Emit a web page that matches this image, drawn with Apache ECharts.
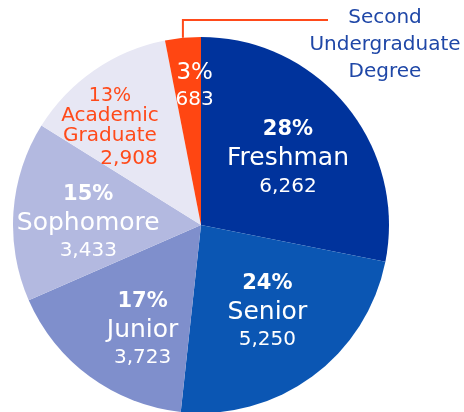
<!DOCTYPE html>
<html>
<head>
    <meta charset="utf-8">
    <title>Enrollment by class</title>
    <script src="https://cdn.jsdelivr.net/npm/echarts@6/dist/echarts.min.js"></script>
    <style type="text/css">
        html, body { margin: 0; padding: 0; background: #fff; }
        #chart { width: 464px; height: 412px; }
    </style>
</head>
<body>
<div id="chart"></div>
<script>
    // data
    var categories = ['Freshman', 'Senior', 'Junior', 'Sophomore', 'Academic\nGraduate', 'Second\nUndergraduate\nDegree'];
    var counts = [6262, 5250, 3723, 3433, 2908, 683];
    var colors = ['#00339c', '#0b56b3', '#7f8fcc', '#b3b9e0', '#e7e7f4', '#ff4612'];

    var total = counts.reduce(function (a, b) { return a + b; }, 0);
    function pct(v) { return Math.round(v / total * 100) + '%'; }
    function fmt(v) { return v.toLocaleString('en-US'); }

    var FONT = 'DejaVu Sans';
    var whiteRich = {
        p: {color: '#fff', fontFamily: FONT, fontWeight: 'bold', fontSize: 21, lineHeight: 29},
        n: {color: '#fff', fontFamily: FONT, fontSize: 25, lineHeight: 29},
        v: {color: '#fff', fontFamily: FONT, fontSize: 20, lineHeight: 26}
    };
    var orangeRich = {
        p: {color: '#ff4a1a', fontFamily: FONT, fontSize: 19, lineHeight: 20},
        n: {color: '#ff4a1a', fontFamily: FONT, fontSize: 20, lineHeight: 20},
        v: {color: '#ff4a1a', fontFamily: FONT, fontSize: 20, lineHeight: 26, padding: [0, 0, 0, 38]}
    };
    var smallRich = {
        p: {color: '#fff', fontFamily: FONT, fontSize: 23, lineHeight: 26},
        v: {color: '#fff', fontFamily: FONT, fontSize: 20, lineHeight: 26}
    };

    var mainData = counts.map(function (v, i) {
        var item = {name: categories[i], value: v, itemStyle: {color: colors[i]}};
        if (i === 5) {
            item.label = {formatter: '{p|' + pct(v) + '}\n{v|' + fmt(v) + '}', rich: smallRich};
        } else if (i === 4) {
            var lines = categories[i].split('\n').map(function (s) { return '{n|' + s + '}'; }).join('\n');
            item.label = {formatter: '{p|' + pct(v) + '}\n' + lines + '\n{v|' + fmt(v) + '}', rich: orangeRich};
        } else {
            item.label = {formatter: '{p|' + pct(v) + '}\n{n|' + categories[i] + '}\n{v|' + fmt(v) + '}', rich: whiteRich};
        }
        return item;
    });

    var outerData = counts.map(function (v, i) {
        return {
            name: categories[i], value: v,
            label: {show: i === 5},
            labelLine: {show: i === 5}
        };
    });

    // nudges for the inside labels, by slice
    var nudges = [[12, -6], [9, 8], [-1, 26], [-16, 4], [-36, -16], [3, -42]];

    var chart = echarts.init(document.getElementById('chart'));
    var option = {
        animation: false,
        series: [
            {
                type: 'pie',
                center: [201, 225],
                radius: 188,
                startAngle: 90,
                clockwise: true,
                silent: true,
                label: {show: true, position: 'inside', align: 'center'},
                labelLine: {show: false},
                itemStyle: {borderWidth: 0},
                data: mainData,
                labelLayout: function (params) {
                    var d = nudges[params.dataIndex];
                    return {dx: d[0], dy: d[1]};
                }
            },
            {
                type: 'pie',
                center: [201, 225],
                radius: 188,
                startAngle: 90,
                clockwise: true,
                silent: true,
                itemStyle: {color: 'rgba(0,0,0,0)'},
                label: {
                    position: 'outside',
                    formatter: '{b}',
                    color: '#1f47a7',
                    fontFamily: FONT,
                    fontSize: 20,
                    lineHeight: 27,
                    align: 'center',
                    overflow: 'none'
                },
                labelLine: {lineStyle: {color: '#ff4a1a', width: 2}},
                data: outerData,
                labelLayout: function (params) {
                    if (params.dataIndex !== 5 || !params.labelLinePoints) return {};
                    var p0 = params.labelLinePoints[0];
                    return {
                        x: 385,
                        y: 4,
                        align: 'center',
                        verticalAlign: 'top',
                        labelLinePoints: [[p0[0], p0[1]], [p0[0], 20], [328, 20]]
                    };
                }
            }
        ]
    };
    chart.setOption(option);
</script>
</body>
</html>
